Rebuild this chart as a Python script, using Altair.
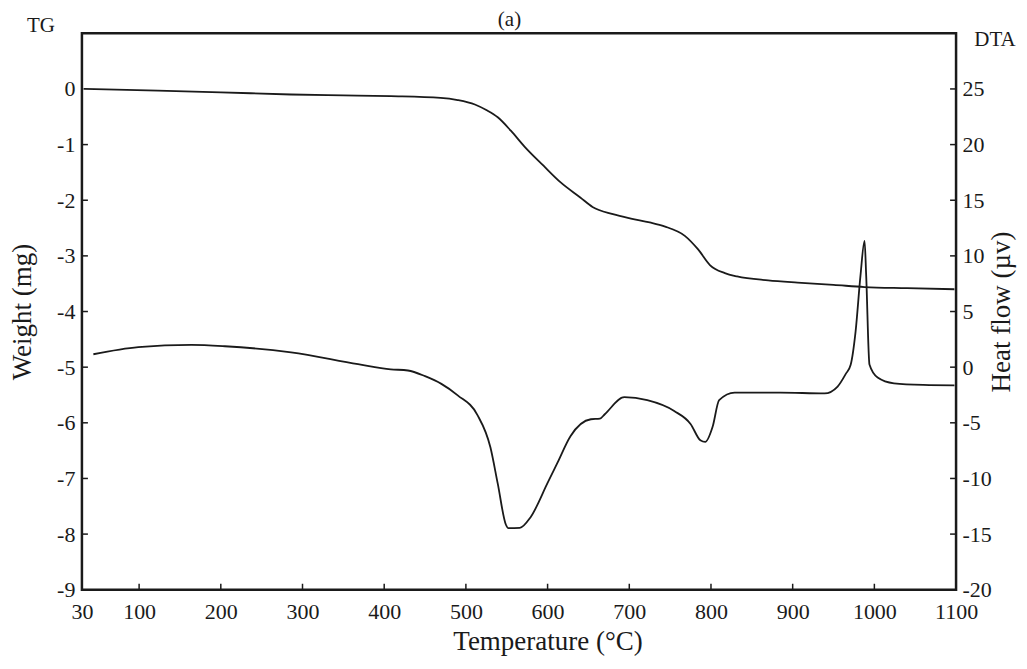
import altair as alt
import pandas as pd

# ---- data (TG / DTA curves) ----
temperature_tg = [32, 123, 200, 286, 350, 408, 469, 490, 511, 525, 539, 555, 572, 595,
                  616, 640, 655, 680, 702, 725, 743, 768, 784, 799, 817, 832, 870, 906,
                  950, 988, 1040, 1098]
weight_tg = [0.0, -0.03, -0.06, -0.10, -0.115, -0.13, -0.16, -0.20, -0.28, -0.38, -0.51,
             -0.75, -1.04, -1.38, -1.68, -1.95, -2.12, -2.25, -2.33, -2.40, -2.47, -2.64,
             -2.88, -3.17, -3.31, -3.37, -3.44, -3.48, -3.52, -3.56, -3.58, -3.60]

temperature_dta = [44, 99, 164, 205, 286, 368, 408, 429, 450, 470, 490, 514, 530, 539,
                   549, 552, 566, 579, 600, 612, 628, 653, 664, 670, 694, 722, 755, 775,
                   787, 793, 802, 810, 829, 885, 939, 955, 965, 971, 977, 983, 988, 990,
                   994, 1004, 1024, 1060, 1098]
heat_flow_dta = [1.16, 1.8, 2.0, 1.88, 1.33, 0.27, -0.19, -0.30, -0.81, -1.5, -2.53,
                 -4.28, -7.2, -10.47, -14.16, -14.46, -14.44, -13.5, -10.4, -8.6, -6.2,
                 -4.68, -4.63, -4.23, -2.7, -2.97, -3.94, -5.1, -6.57, -6.72, -5.36,
                 -2.97, -2.29, -2.28, -2.36, -1.74, -0.6, 0.22, 3.2, 8.22, 11.35, 8.2,
                 0.24, -0.93, -1.45, -1.6, -1.64]

x_tick_labels = [30, 100, 200, 300, 400, 500, 600, 700, 800, 900, 1000, 1100]
x_tick_marks = [100, 200, 300, 400, 500, 600, 700, 800, 900, 1000]
tg_tick_labels = [0, -1, -2, -3, -4, -5, -6, -7, -8, -9]
tg_tick_marks = [-1, -2, -3, -4, -5, -6, -7, -8]
dta_tick_labels = [25, 20, 15, 10, 5, 0, -5, -10, -15, -20]
dta_tick_marks = [25, 20, 15, 10, 5, 0, -5, -10, -15]

panel_label = ["(a)"]
tg_name = ["TG"]
dta_name = ["DTA"]

# ---- styling ----
W, H = 875, 557
FONT = "Liberation Serif"
INK = "#1a1a1a"

tg_df = pd.DataFrame({"T": temperature_tg, "Wt": weight_tg})
dta_df = pd.DataFrame({"T": temperature_dta, "HF": heat_flow_dta})

x_scale = alt.Scale(domain=[30, 1100], nice=False, zero=False)
tg_scale = alt.Scale(domain=[-9, 1], nice=False, zero=False)
dta_scale = alt.Scale(domain=[-20, 30], nice=False, zero=False)

common = dict(grid=False, domain=False, ticks=False, tickSize=0, labelFlush=False,
              labelOverlap=False, labelFont=FONT, labelColor=INK, titleFont=FONT,
              titleFontWeight="normal", titleColor=INK)

x_axis = alt.Axis(values=x_tick_labels, format="d", title="Temperature (°C)",
                  labelPadding=12, labelFontSize=22, titleFontSize=27, titlePadding=6,
                  titleX=466, titleAlign="center", **common)
tg_axis = alt.Axis(orient="left", values=tg_tick_labels, labelExpr="'' + datum.value",
                   title="Weight (mg)", labelPadding=7, labelFontSize=22,
                   titleFontSize=27, titlePadding=20, **common)
dta_axis = alt.Axis(orient="right", values=dta_tick_labels, labelExpr="'' + datum.value",
                    title="Heat flow (µv)", titleAngle=270, labelPadding=6,
                    labelFontSize=22, titleFontSize=27, titlePadding=24, **common)

X = alt.X("T:Q", scale=x_scale, axis=x_axis)

tg_line = alt.Chart(tg_df).mark_line(color=INK, strokeWidth=1.8, interpolate="monotone").encode(
    x=X, y=alt.Y("Wt:Q", scale=tg_scale, axis=tg_axis))
tg_ticks = alt.Chart(pd.DataFrame({"Wt": tg_tick_marks})).mark_rule(color=INK, strokeWidth=1.5).encode(
    y=alt.Y("Wt:Q", scale=tg_scale, axis=tg_axis), x=alt.value(0), x2=alt.value(6))
x_ticks = alt.Chart(pd.DataFrame({"T": x_tick_marks})).mark_rule(color=INK, strokeWidth=1.5).encode(
    x=X, y=alt.value(H), y2=alt.value(H - 6))
tg_text = alt.Chart(pd.DataFrame({"label": tg_name})).mark_text(
    font=FONT, fontSize=21, color=INK, align="center", baseline="middle").encode(
    x=alt.value(-41), y=alt.value(-7), text="label:N")
title_text = alt.Chart(pd.DataFrame({"label": panel_label})).mark_text(
    font=FONT, fontSize=21, color=INK, align="center", baseline="middle").encode(
    x=alt.value(428), y=alt.value(-13), text="label:N")

tg_layer = alt.layer(tg_line, tg_ticks, x_ticks, tg_text, title_text)

dta_line = alt.Chart(dta_df).mark_line(color=INK, strokeWidth=1.8, interpolate="monotone").encode(
    x=X, y=alt.Y("HF:Q", scale=dta_scale, axis=dta_axis))
dta_ticks = alt.Chart(pd.DataFrame({"HF": dta_tick_marks})).mark_rule(color=INK, strokeWidth=1.5).encode(
    y=alt.Y("HF:Q", scale=dta_scale, axis=dta_axis), x=alt.value(W - 6), x2=alt.value(W))
dta_text = alt.Chart(pd.DataFrame({"label": dta_name})).mark_text(
    font=FONT, fontSize=21, color=INK, align="center", baseline="middle").encode(
    x=alt.value(W + 39), y=alt.value(7), text="label:N")

dta_layer = alt.layer(dta_line, dta_ticks, dta_text)

chart = alt.layer(tg_layer, dta_layer).resolve_scale(y="independent").properties(
    width=W, height=H,
    autosize=alt.AutoSizeParams(type="none"),
    padding={"left": 74, "top": 25, "right": 63, "bottom": 68},
    background="white",
).configure_view(stroke=INK, strokeWidth=2.5)

chart.save("out.html", embed_options={"renderer": "svg", "actions": False})
